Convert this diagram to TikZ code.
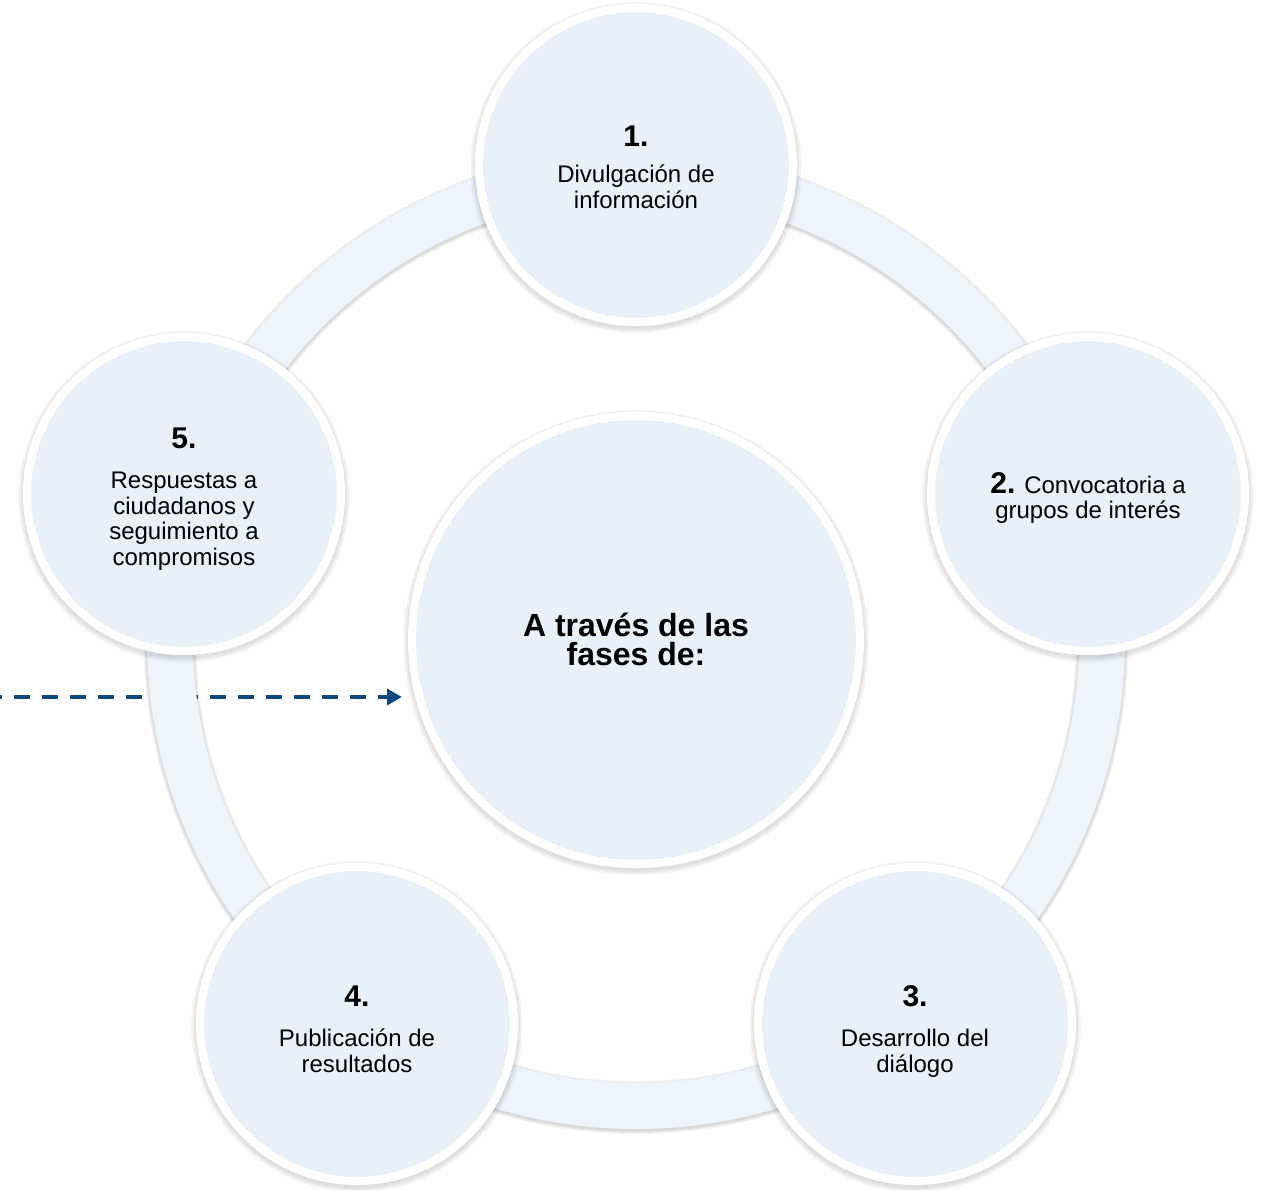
\documentclass[tikz,border=0pt]{standalone}
\usepackage{fontspec}
\setmainfont{Liberation Sans}
\usetikzlibrary{arrows.meta}
\definecolor{circfill}{RGB}{232,240,250}
\definecolor{ringfill}{RGB}{238,244,252}
\definecolor{arrowblue}{RGB}{15,74,126}
\newcommand{\phasenum}{\fontsize{30}{30}\selectfont\bfseries}
\pgfdeclarelayer{arrowlayer}
\pgfdeclarelayer{ringlayer}
\pgfsetlayers{arrowlayer,ringlayer,main}
\begin{document}
\begin{tikzpicture}[x=1pt,y=-1pt,
  phasecircle/.style={circle, draw=white, line width=8pt, fill=circfill, minimum size=314pt, inner sep=0pt},
  hubcircle/.style={phasecircle, minimum size=448pt},
  lbl/.style={align=center, inner sep=0pt, font=\fontsize{24}{25.5}\selectfont},
  hublbl/.style={align=center, inner sep=0pt, font=\fontsize{32}{29}\selectfont\bfseries},
  shadowfill/.style={fill=black, opacity=0.03},
  ringshadow/.style={draw=black, opacity=0.04},
  connector/.style={draw=arrowblue, line width=4pt, dash pattern=on 16pt off 12pt, dash phase=14pt, -{Triangle[length=15pt,width=16pt]}}]
\useasboundingbox (0,0) rectangle (1263,1189);
\begin{pgfonlayer}{arrowlayer}
  \fill[white] (0,0) rectangle (1263,1189);
\end{pgfonlayer}

% centres
\coordinate (pc) at (636,640);
\coordinate (p1) at (636,165);
\coordinate (p2) at (1088,494);
\coordinate (p3) at (915,1024);
\coordinate (p4) at (357,1024);
\coordinate (p5) at (184,494);

% ring and shadows
\begin{pgfonlayer}{ringlayer}
  \foreach \w in {47,49,51,53}{
    \draw[ringshadow, line width=\w pt] (636,641.5) circle[radius=466];
  }
  \draw[ringfill, line width=46pt] (pc) circle[radius=466];
  \foreach \p/\r in {p1/161,p2/161,p3/161,p4/161,p5/161,pc/228}{
    \foreach \d in {1,3,5,7}{
      \fill[shadowfill] ([yshift=-2.5pt]\p) circle[radius=\r+\d*0.7];
    }
  }
\end{pgfonlayer}

% circles
\node[hubcircle] (cc) at (pc) {};
\node[phasecircle] (c1) at (p1) {};
\node[phasecircle] (c2) at (p2) {};
\node[phasecircle] (c3) at (p3) {};
\node[phasecircle] (c4) at (p4) {};
\node[phasecircle] (c5) at (p5) {};

% labels
\node[hublbl] (tc) at (636,639) {A través de las\\fases de:};
\node[lbl] (t1) at (636,167) {{\phasenum 1.}\\[11pt]Divulgación de\\información};
\node[lbl] (t2) at (1088,498) {{\phasenum 2.} Convocatoria a\\grupos de interés};
\node[lbl] (t3) at (915,1031) {{\phasenum 3.}\\[15pt]Desarrollo del\\diálogo};
\node[lbl] (t4) at (357,1029) {{\phasenum 4.}\\[15pt]Publicación de\\resultados};
\node[lbl] (t5) at (184,499) {{\phasenum 5.}\\[15pt]Respuestas a\\ciudadanos y\\seguimiento a\\compromisos};

% dashed arrow (under the ring)
\coordinate (src) at (0,697);
\begin{pgfonlayer}{arrowlayer}
  \path[connector] (src) -- ([xshift=-6pt]src -| cc.west);
\end{pgfonlayer}
\end{tikzpicture}
\end{document}
